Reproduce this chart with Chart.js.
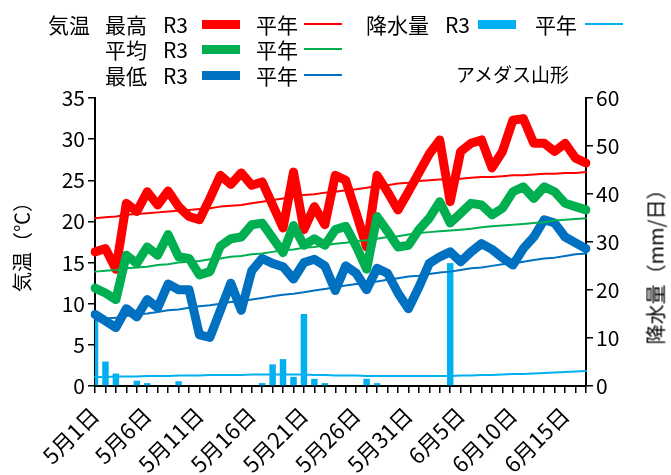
<!DOCTYPE html>
<html>
<head>
<meta charset="utf-8">
<script src="https://cdn.jsdelivr.net/npm/chart.js@4.4.0/dist/chart.umd.min.js"></script>
<style>
body { margin: 0; background: #fff; }
#wrap { position: relative; width: 671px; height: 475px; font-family: "Noto Sans CJK JP", sans-serif; color: #000; }
.t { position: absolute; font-size: 21px; line-height: 1; transform: translateY(-50%); white-space: nowrap; }
.sw { position: absolute; }
</style>
</head>
<body>
<div id="wrap">
  <canvas id="chart" width="671" height="475"></canvas>

  <!-- legend -->
  <span class="t" style="left:48px;top:24px">気温</span>
  <span class="t" style="left:105px;top:24px">最高</span>
  <span class="t" style="left:163px;top:24px">R3</span>
  <span class="sw" style="left:202px;top:20px;width:38px;height:9px;background:#FF0000"></span>
  <span class="t" style="left:256px;top:24px">平年</span>
  <span class="sw" style="left:304px;top:23px;width:38px;height:2px;background:#FF0000"></span>

  <span class="t" style="left:366px;top:24px">降水量</span>
  <span class="t" style="left:445px;top:24px">R3</span>
  <span class="sw" style="left:478px;top:20px;width:38px;height:9px;background:#00B0F0"></span>
  <span class="t" style="left:535px;top:24px">平年</span>
  <span class="sw" style="left:585px;top:23px;width:38px;height:2px;background:#00B0F0"></span>

  <span class="t" style="left:105px;top:49px">平均</span>
  <span class="t" style="left:163px;top:49px">R3</span>
  <span class="sw" style="left:202px;top:45px;width:38px;height:9px;background:#00B050"></span>
  <span class="t" style="left:256px;top:49px">平年</span>
  <span class="sw" style="left:304px;top:48px;width:38px;height:2px;background:#00B050"></span>

  <span class="t" style="left:105px;top:75px">最低</span>
  <span class="t" style="left:163px;top:75px">R3</span>
  <span class="sw" style="left:202px;top:71px;width:38px;height:9px;background:#0070C0"></span>
  <span class="t" style="left:256px;top:75px">平年</span>
  <span class="sw" style="left:304px;top:74px;width:38px;height:2px;background:#0070C0"></span>

  <span class="t" style="left:456px;top:73px;font-size:19px">アメダス山形</span>

  <div style="position:absolute;left:655px;top:262px;transform:translate(-50%,-50%) rotate(-90deg);font-size:20px;white-space:nowrap">降水量（mm/日）</div>
</div>

<script>
var dates = ['5月1日', '5月2日', '5月3日', '5月4日', '5月5日', '5月6日', '5月7日', '5月8日', '5月9日', '5月10日',
    '5月11日', '5月12日', '5月13日', '5月14日', '5月15日', '5月16日', '5月17日', '5月18日', '5月19日', '5月20日',
    '5月21日', '5月22日', '5月23日', '5月24日', '5月25日', '5月26日', '5月27日', '5月28日', '5月29日', '5月30日',
    '5月31日', '6月1日', '6月2日', '6月3日', '6月4日', '6月5日', '6月6日', '6月7日', '6月8日', '6月9日',
    '6月10日', '6月11日', '6月12日', '6月13日', '6月14日', '6月15日', '6月16日', '6月17日'];
var shownTicks = ['5月1日', '5月6日', '5月11日', '5月16日', '5月21日', '5月26日', '5月31日', '6月5日', '6月10日', '6月15日'];

// 気温 R3 (℃)
var maxR3 = [16.3, 16.7, 14.2, 22.2, 21.2, 23.6, 22.0, 23.7, 21.8, 20.6,
    20.2, 22.8, 25.6, 24.5, 25.9, 24.4, 24.8, 22.0, 19.2, 26.0,
    19.0, 21.8, 19.6, 25.6, 25.0, 21.0, 16.9, 25.6, 23.6, 21.4,
    23.6, 25.9, 28.2, 29.9, 22.4, 28.5, 29.5, 29.9, 26.5, 28.5,
    32.3, 32.5, 29.5, 29.5, 28.5, 29.5, 27.7, 27.1];
var meanR3 = [11.9, 11.3, 10.5, 15.9, 14.9, 16.9, 15.9, 18.4, 15.7, 15.5,
    13.5, 13.9, 17.0, 17.9, 18.1, 19.6, 19.8, 18.0, 16.2, 19.5,
    17.1, 17.9, 17.1, 19.0, 19.4, 17.0, 14.2, 20.6, 18.8, 16.9,
    17.1, 19.0, 20.4, 22.4, 19.8, 21.0, 22.2, 22.0, 20.8, 21.6,
    23.6, 24.2, 22.8, 24.2, 23.6, 22.2, 21.8, 21.4];
var minR3 = [8.7, 7.9, 7.1, 9.4, 8.4, 10.5, 9.5, 12.4, 11.7, 11.7,
    6.2, 5.9, 9.2, 12.5, 9.2, 14.0, 15.5, 14.9, 14.5, 13.0,
    15.0, 15.4, 14.6, 11.6, 14.6, 13.7, 11.7, 14.3, 13.7, 11.3,
    9.4, 12.0, 14.9, 15.7, 16.3, 15.1, 16.3, 17.3, 16.6, 15.6,
    14.7, 16.7, 18.1, 20.2, 19.8, 18.1, 17.4, 16.7];

// 気温 平年 (℃)
var maxNormal = [20.4, 20.5, 20.6, 20.8, 20.9, 21.0, 21.1, 21.2, 21.3, 21.4,
    21.5, 21.6, 21.8, 21.9, 22.0, 22.2, 22.4, 22.6, 22.8, 23.0,
    23.2, 23.3, 23.5, 23.6, 23.8, 23.9, 24.1, 24.3, 24.4, 24.6,
    24.7, 24.9, 25.0, 25.1, 25.2, 25.2, 25.3, 25.4, 25.4, 25.5,
    25.6, 25.6, 25.7, 25.8, 25.8, 25.9, 25.9, 26.0];
var meanNormal = [13.9, 14.0, 14.1, 14.3, 14.4, 14.5, 14.7, 14.8, 15.0, 15.1,
    15.2, 15.4, 15.5, 15.7, 15.8, 16.0, 16.1, 16.3, 16.5, 16.6,
    16.8, 16.9, 17.1, 17.3, 17.4, 17.6, 17.7, 17.9, 18.1, 18.2,
    18.4, 18.6, 18.7, 18.8, 18.9, 19.0, 19.1, 19.3, 19.4, 19.5,
    19.6, 19.7, 19.8, 19.9, 20.1, 20.2, 20.3, 20.4];
var minNormal = [8.0, 8.2, 8.3, 8.5, 8.7, 8.8, 9.0, 9.2, 9.3, 9.5,
    9.7, 9.8, 10.0, 10.2, 10.3, 10.5, 10.7, 10.9, 11.1, 11.2,
    11.4, 11.6, 11.8, 12.0, 12.2, 12.4, 12.5, 12.7, 12.9, 13.1,
    13.3, 13.4, 13.6, 13.8, 13.9, 14.1, 14.3, 14.4, 14.6, 14.8,
    14.9, 15.1, 15.3, 15.5, 15.6, 15.8, 16.0, 16.1];

// 降水量 (mm/日)
var rainR3 = [13.8, 5.1, 2.6, 0, 1.1, 0.6, 0, 0, 1.0, 0,
    0, 0, 0, 0, 0, 0, 0.6, 4.5, 5.6, 1.9,
    15.0, 1.5, 0.6, 0, 0, 0, 1.5, 0.6, 0, 0,
    0, 0, 0, 0, 25.6, 0, 0, 0, 0, 0,
    0, 0, 0, 0, 0, 0, 0, 0];
var rainNormal = [1.9, 1.9, 2.0, 2.0, 2.0, 2.1, 2.1, 2.1, 2.2, 2.2,
    2.2, 2.3, 2.3, 2.3, 2.3, 2.4, 2.4, 2.4, 2.4, 2.4,
    2.4, 2.3, 2.3, 2.2, 2.2, 2.2, 2.1, 2.1, 2.1, 2.1,
    2.1, 2.1, 2.1, 2.1, 2.1, 2.2, 2.2, 2.3, 2.3, 2.4,
    2.5, 2.5, 2.6, 2.7, 2.8, 2.9, 3.0, 3.1];

Chart.defaults.font.family = '"Noto Sans CJK JP", sans-serif';
Chart.defaults.color = '#000';

function thick(label, data, color, order) {
    return { label: label, data: data, borderColor: color, backgroundColor: color, borderWidth: 9, yAxisID: 'y', order: order };
}
function thin(label, data, color, axis, order) {
    return { label: label, data: data, borderColor: color, backgroundColor: color, borderWidth: 2, yAxisID: axis, order: order };
}

var ctx = document.getElementById('chart').getContext('2d');
var chart = new Chart(ctx, {
    type: 'line',
    data: {
        labels: dates,
        datasets: [
            thick('最高 R3', maxR3, '#FF0000', 5),
            thick('平均 R3', meanR3, '#00B050', 4),
            thick('最低 R3', minR3, '#0070C0', 3),
            thin('最高 平年', maxNormal, '#FF0000', 'y', 2),
            thin('平均 平年', meanNormal, '#00B050', 'y', 2),
            thin('最低 平年', minNormal, '#0070C0', 'y', 2),
            thin('降水量 平年', rainNormal, '#00B0F0', 'y2', 1),
            {
                type: 'bar', label: '降水量 R3', data: rainR3, backgroundColor: '#00B0F0',
                yAxisID: 'y2', order: 10, barPercentage: 0.62, categoryPercentage: 1, clip: 0
            }
        ]
    },
    options: {
        responsive: false,
        animation: false,
        layout: { padding: { top: 98 } },
        plugins: { legend: { display: false }, tooltip: { enabled: false } },
        elements: {
            point: { radius: 0 },
            line: { tension: 0, borderJoinStyle: 'round', borderCapStyle: 'round' }
        },
        scales: {
            x: {
                offset: false,
                grid: { offset: false, drawOnChartArea: false, color: '#000', lineWidth: 1.5, tickLength: 7 },
                border: { color: '#000', width: 2 },
                ticks: {
                    autoSkip: false, maxRotation: 45, minRotation: 45, padding: 9,
                    font: { size: 22 },
                    callback: function (v, i) {
                        return shownTicks.indexOf(dates[i]) >= 0 ? dates[i] : '';
                    }
                },
                afterFit: function (s) { s.height = 89; }
            },
            y: {
                position: 'left', min: 0, max: 35,
                ticks: { stepSize: 5, font: { size: 21 }, padding: 3 },
                grid: { drawOnChartArea: false, color: '#000', lineWidth: 1.5, tickLength: 7 },
                border: { color: '#000', width: 2 },
                title: { display: true, text: '気温（℃）', font: { size: 20 }, padding: { top: 10 } },
                afterFit: function (s) { s.width = 95; }
            },
            y2: {
                position: 'right', min: 0, max: 60,
                ticks: { stepSize: 10, font: { size: 21 }, padding: 3 },
                grid: { drawOnChartArea: false, color: '#000', lineWidth: 1.5, tickLength: 7 },
                border: { color: '#000', width: 2 },
                afterFit: function (s) { s.width = 85; }
            }
        }
    }
});
</script>
</body>
</html>
